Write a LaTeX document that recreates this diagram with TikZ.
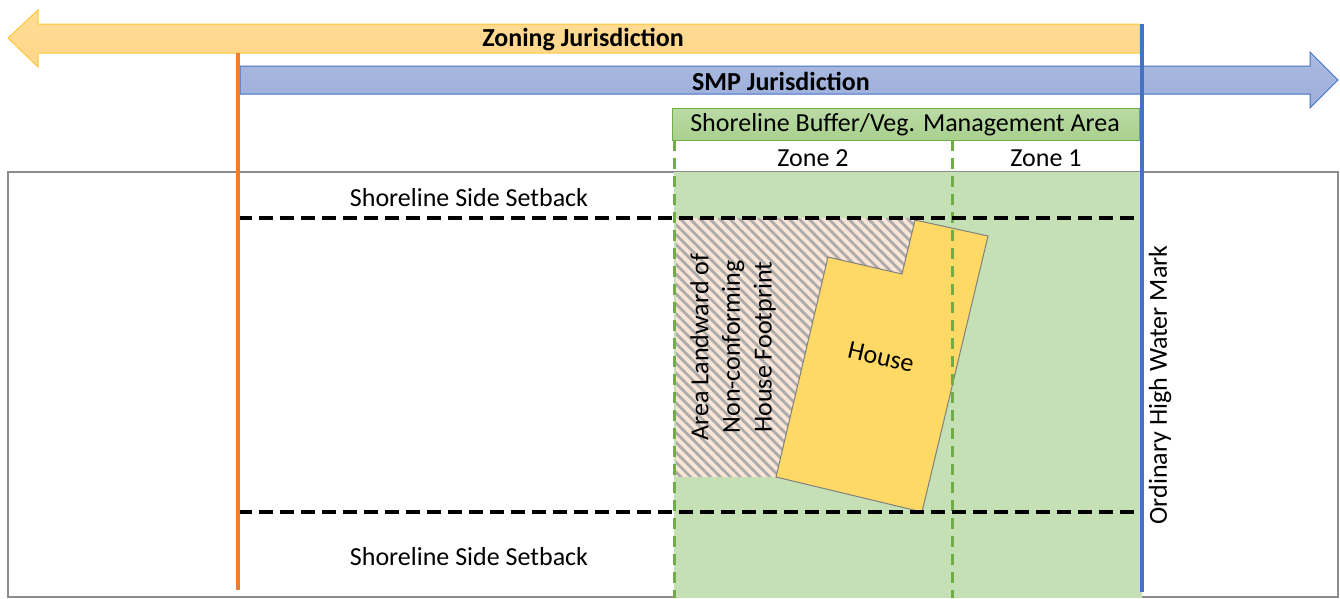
\documentclass[tikz,border=0pt]{standalone}
\usepackage{fontspec}
\setmainfont{Carlito}
\usetikzlibrary{patterns.meta}
\definecolor{zoningfill}{HTML}{FFD789}
\definecolor{zoningline}{HTML}{FFC83D}
\definecolor{smpfill}{HTML}{9CAEDB}
\definecolor{smpline}{HTML}{4472C4}
\definecolor{bufferfill}{HTML}{C5E0B4}
\definecolor{bufferhead}{HTML}{A9D18E}
\definecolor{bufferline}{HTML}{70AD47}
\definecolor{setbackline}{HTML}{ED7D31}
\definecolor{housefill}{HTML}{FFD966}
\definecolor{hatchfill}{HTML}{FBE5D6}
\tikzset{
  lbl/.style={font=\fontsize{26}{31.6}\selectfont, inner sep=0pt},
  boldlbl/.style={lbl, font=\fontsize{26}{31.6}\selectfont\bfseries},
  setback/.style={black, line width=3.2pt, dash pattern=on 14pt off 7pt},
  zoneline/.style={bufferline, line width=3pt, dash pattern=on 11pt off 7pt}
}

\begin{document}
\begin{tikzpicture}[x=1pt,y=-1pt]
\useasboundingbox (0,0) rectangle (1340,598);

\pgfmathsetmacro{\xo}{238}
\pgfmathsetmacro{\xb}{1142}
\pgfmathsetmacro{\xzt}{674}
\pgfmathsetmacro{\xzo}{952}
\pgfmathsetmacro{\yt}{218}
\pgfmathsetmacro{\yb}{512}

  % lot and shoreline buffer
  \draw[gray!90, line width=2pt, fill=white] (8,172) rectangle (1338,597);
  \fill[bufferfill] (\xzt,172) rectangle (\xb,598);

  % area landward of the house
  \fill[hatchfill] (676,\yt) -- (915,\yt) -- (915,220) -- (902,274) -- (828,257) -- (776,477) -- (676,477) -- cycle;
  \fill[pattern={Lines[angle=-45, distance=7pt, line width=2.8pt]}, pattern color=gray!65]
    (676,\yt) -- (915,\yt) -- (915,220) -- (902,274) -- (828,257) -- (776,477) -- (676,477) -- cycle;

  % house
  \draw[gray, line width=1pt, fill=housefill] (915,220) -- (988,236) -- (922,512) -- (776,477) -- (828,257) -- (902,274) -- cycle;

  \draw[zoneline] (\xzt,140) -- (\xzt,598);
  \draw[zoneline] (\xzo,140) -- (\xzo,598);
  \draw[setback] (\xo,\yt) -- (\xb,\yt);
  \draw[setback] (\xo,\yb) -- (\xb,\yb);

  % jurisdiction arrows
  \draw[zoningline, line width=1pt, top color=zoningfill!90!white, bottom color=zoningfill]
    (1140,24) -- (38,24) -- (38,10) -- (8,38) -- (38,67) -- (38,53) -- (1140,53) -- cycle;
  \draw[smpline, line width=1pt, top color=smpfill!85!white, bottom color=smpfill]
    (240,66) -- (1310,66) -- (1310,52) -- (1338,80) -- (1310,108) -- (1310,94) -- (240,94) -- cycle;
  \draw[bufferline, line width=1pt, top color=bufferhead!80!white, bottom color=bufferhead] (672,108) rectangle (1139,140);

  \draw[setbackline, line width=3.5pt] (\xo,53) -- (\xo,590);
  \draw[smpline, line width=3.5pt] (\xb,24) -- (\xb,592);

  % labels
  \node[boldlbl] (zoning) at (583,40) {Zoning Jurisdiction};
  \node[boldlbl] (smp) at (781,81) {SMP Jurisdiction};
  \node[lbl] (buffer) at (905,125) {Shoreline Buffer/Veg. Management Area};
  \node[lbl] (zonetwo) at (813,158) {Zone 2};
  \node[lbl] (zoneone) at (1046,158) {Zone 1};
  \node[lbl] (sbtop) at (469,198) {Shoreline Side Setback};
  \node[lbl] (sbbot) at (469,557) {Shoreline Side Setback};
  \node[lbl, rotate=-13] (house) at (881,357) {House};
  \node[lbl, rotate=90, align=center] (landward) at (733,347) {Area Landward of\\Non-conforming\\House Footprint};
  \node[lbl, rotate=90] (ohwm) at (1160,385) {Ordinary High Water Mark};

\end{tikzpicture}
\end{document}
